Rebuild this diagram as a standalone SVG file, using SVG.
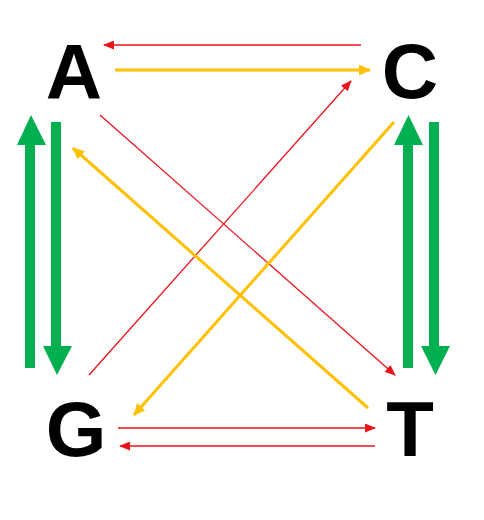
<svg xmlns="http://www.w3.org/2000/svg" width="484" height="520" viewBox="0 0 484 520">
<style>
.lbl{font-family:"Liberation Sans",Arial,sans-serif;font-weight:bold;font-size:78px;fill:#000;text-anchor:middle}
.red{stroke:#E8141B;stroke-width:1.3;fill:none}
.yel{stroke:#FFC000;stroke-width:3;fill:none}
.grn{fill:#00B050}
</style>
<defs>
<marker id="mr" markerUnits="userSpaceOnUse" markerWidth="11" markerHeight="9" refX="10" refY="4.5" orient="auto"><path d="M0,0 L11,4.5 L0,9 z" fill="#E8141B"/></marker>
<marker id="my" markerUnits="userSpaceOnUse" markerWidth="12" markerHeight="11" refX="11" refY="5.5" orient="auto"><path d="M0,0 L12,5.5 L0,11 z" fill="#FFC000"/></marker>
</defs>
<rect width="484" height="520" fill="#fff"/>
<g id="connectors">
<line class="red" x1="361" y1="45" x2="104" y2="45" marker-end="url(#mr)"/>
<line class="yel" x1="115" y1="70" x2="370" y2="70" marker-end="url(#my)"/>
<line class="red" x1="100" y1="115" x2="395" y2="375" marker-end="url(#mr)"/>
<line class="red" x1="89" y1="375" x2="351" y2="81" marker-end="url(#mr)"/>
<line class="yel" x1="394" y1="122" x2="134" y2="415" marker-end="url(#my)"/>
<line class="yel" x1="368" y1="408" x2="73" y2="148" marker-end="url(#my)"/>
<line class="red" x1="118" y1="428" x2="375" y2="428" marker-end="url(#mr)"/>
<line class="red" x1="375" y1="446" x2="120" y2="446" marker-end="url(#mr)"/>
<g id="green-left">
<rect class="grn" x="25" y="144" width="10" height="224"/><polygon class="grn" points="17,145 46,145 31,115"/>
<rect class="grn" x="51" y="122" width="10" height="225"/><polygon class="grn" points="43,346 72,346 57,375"/>
</g>
<g id="green-right">
<rect class="grn" x="403" y="144" width="10" height="224"/><polygon class="grn" points="394,145 423,145 408.5,115"/>
<rect class="grn" x="429" y="122" width="10" height="225"/><polygon class="grn" points="421,346 450,346 435.5,375"/>
</g>
</g>
<g id="node-A"><text class="lbl" x="74" y="99">A</text></g>
<g id="node-C"><text class="lbl" x="410" y="98">C</text></g>
<g id="node-G"><text class="lbl" x="76" y="456">G</text></g>
<g id="node-T"><text class="lbl" x="410" y="456">T</text></g>
</svg>
